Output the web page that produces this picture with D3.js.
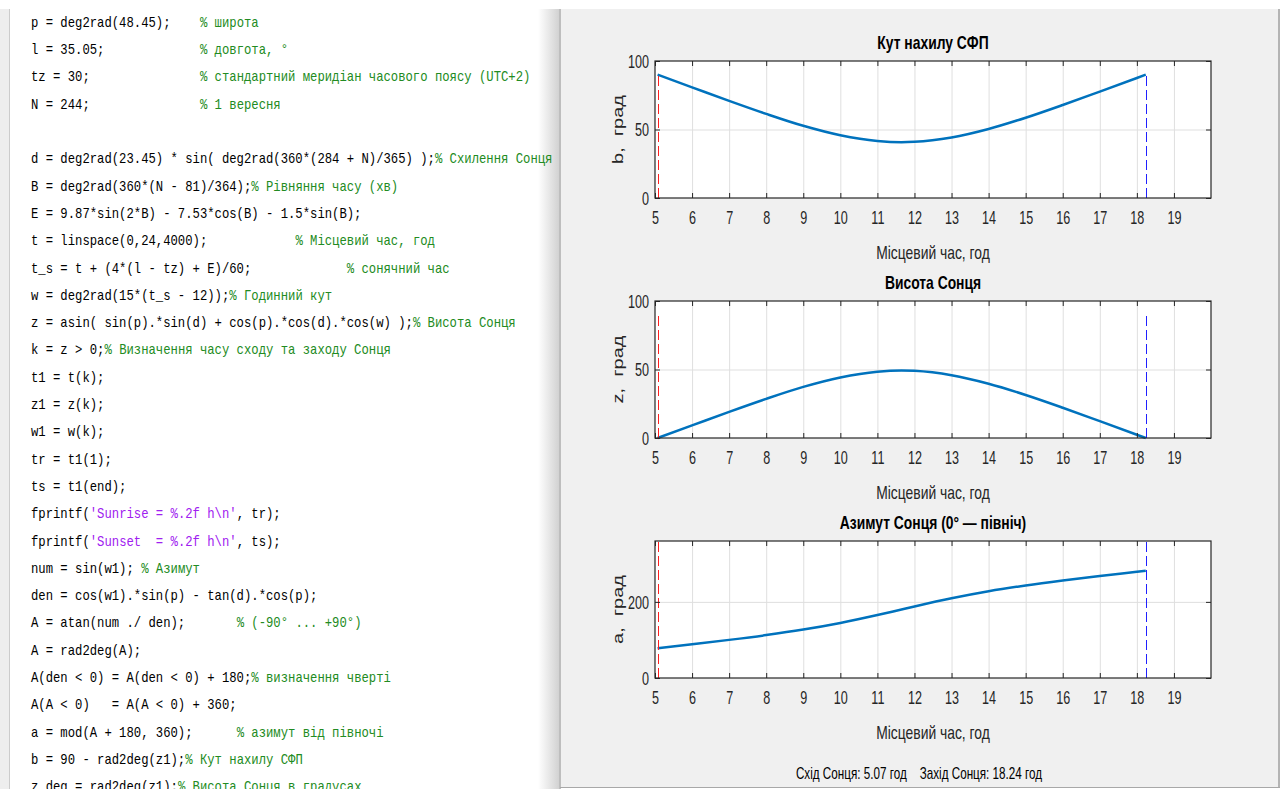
<!DOCTYPE html>
<html>
<head>
<meta charset="utf-8">
<script src="https://cdn.jsdelivr.net/npm/d3@7"></script>
<style>
  body { margin: 0; background: #fff; }
  svg { display: block; }
  text { font-family: "Liberation Sans", Arial, sans-serif; fill: #262626; }
  .code text { font-family: "Liberation Mono", "Courier New", monospace; font-size: 14px; white-space: pre; }
</style>
</head>
<body>
<div id="chart"></div>
<script>
// Width and height of the screenshot
var width = 1283, height = 789;

// MATLAB script shown in the editor panel
var codeLines = [
  "p = deg2rad(48.45);    % широта",
  "l = 35.05;             % довгота, °",
  "tz = 30;               % стандартний меридіан часового поясу (UTC+2)",
  "N = 244;               % 1 вересня",
  "",
  "d = deg2rad(23.45) * sin( deg2rad(360*(284 + N)/365) );% Схилення Сонця",
  "B = deg2rad(360*(N - 81)/364);% Рівняння часу (хв)",
  "E = 9.87*sin(2*B) - 7.53*cos(B) - 1.5*sin(B);",
  "t = linspace(0,24,4000);            % Місцевий час, год",
  "t_s = t + (4*(l - tz) + E)/60;             % сонячний час",
  "w = deg2rad(15*(t_s - 12));% Годинний кут",
  "z = asin( sin(p).*sin(d) + cos(p).*cos(d).*cos(w) );% Висота Сонця",
  "k = z > 0;% Визначення часу сходу та заходу Сонця",
  "t1 = t(k);",
  "z1 = z(k);",
  "w1 = w(k);",
  "tr = t1(1);",
  "ts = t1(end);",
  "fprintf('Sunrise = %.2f h\\n', tr);",
  "fprintf('Sunset  = %.2f h\\n', ts);",
  "num = sin(w1); % Азимут",
  "den = cos(w1).*sin(p) - tan(d).*cos(p);",
  "A = atan(num ./ den);       % (-90° ... +90°)",
  "A = rad2deg(A);",
  "A(den < 0) = A(den < 0) + 180;% визначення чверті",
  "A(A < 0)   = A(A < 0) + 360;",
  "a = mod(A + 180, 360);      % азимут від півночі",
  "b = 90 - rad2deg(z1);% Кут нахилу СФП",
  "z_deg = rad2deg(z1);% Висота Сонця в градусах"
];

// Local time samples (h)
var hours = [5.07, 6, 7, 8, 9, 10, 11, 11.65, 12, 13, 14, 15, 16, 17, 18, 18.24];
// Tilt of the panel b, deg
var tiltB = [90, 80.8, 70.9, 61.4, 52.7, 45.8, 41.6, 40.7, 41.0, 44.2, 50.4, 58.6, 67.9, 77.7, 87.6, 90];
// Sun elevation z, deg
var elevZ = [0, 9.2, 19.1, 28.6, 37.3, 44.2, 48.4, 49.3, 49.0, 45.8, 39.6, 31.4, 22.1, 12.3, 2.4, 0];
// Sun azimuth a, deg from north
var azimA = [78.3, 88.7, 100.2, 112.7, 127.2, 144.6, 165.3, 180.0, 187.9, 209.4, 227.9, 243.1, 256.1, 267.8, 279.0, 281.7];

var sunrise = 5.07, sunset = 18.24;
var xTicks = [5, 6, 7, 8, 9, 10, 11, 12, 13, 14, 15, 16, 17, 18, 19];

var titles = ["Кут нахилу СФП", "Висота Сонця", "Азимут Сонця (0° — північ)"];
var yLabels = ["b,  град", "z,  град", "a,  град"];
var yDomains = [[0, 100], [0, 100], [0, 360]];
var yTickVals = [[0, 50, 100], [0, 50, 100], [0, 200]];
var markerTop = [90, 90, 360];
var series = [tiltB, elevZ, azimA];
var footer = "Схід Сонця: 5.07 год    Захід Сонця: 18.24 год";

var svg = d3.select("#chart").append("svg")
    .attr("width", width)
    .attr("height", height);

var defs = svg.append("defs");
var grad = defs.append("linearGradient").attr("id", "shadow");
grad.append("stop").attr("offset", "0%").attr("stop-color", "#ffffff");
grad.append("stop").attr("offset", "100%").attr("stop-color", "#d2d2d2");

// ---- editor panel ----
svg.append("rect").attr("x", 0).attr("y", 9).attr("width", 9).attr("height", 780).attr("fill", "#eeeeee");
svg.append("line").attr("x1", 9.5).attr("x2", 9.5).attr("y1", 9).attr("y2", 789).attr("stroke", "#cccccc");
svg.append("rect").attr("x", 538).attr("y", 9).attr("width", 21).attr("height", 780).attr("fill", "url(#shadow)");

function tokenize(line) {
  var segs = [], cur = "", inStr = false;
  for (var i = 0; i < line.length; i++) {
    var c = line[i];
    if (!inStr && c === "%") {
      if (cur) segs.push([cur, "code"]);
      segs.push([line.slice(i), "comment"]);
      return segs;
    }
    if (c === "'") {
      if (!inStr) { if (cur) segs.push([cur, "code"]); cur = "'"; inStr = true; }
      else { cur += "'"; segs.push([cur, "str"]); cur = ""; inStr = false; }
      continue;
    }
    cur += c;
  }
  if (cur) segs.push([cur, inStr ? "str" : "code"]);
  return segs;
}

var colors = { code: "#000000", comment: "#228B22", str: "#A020F0" };
var code = svg.append("g").attr("class", "code")
    .attr("transform", "translate(31,0) scale(0.875,1)");

codeLines.forEach(function(line, i) {
  var t = code.append("text")
      .attr("xml:space", "preserve")
      .attr("x", 0)
      .attr("y", 22 + i * 27.3)
      .attr("dy", "0.35em");
  tokenize(line).forEach(function(s) {
    t.append("tspan").style("fill", colors[s[1]]).text(s[0]);
  });
});

// ---- figure panel ----
svg.append("rect").attr("x", 561).attr("y", 9).attr("width", 717).attr("height", 778).attr("fill", "#f0f0f0");
svg.append("line").attr("x1", 560).attr("x2", 560).attr("y1", 9).attr("y2", 789).attr("stroke", "#a8a8a8").attr("stroke-width", 1.5);
svg.append("line").attr("x1", 1279).attr("x2", 1279).attr("y1", 9).attr("y2", 788).attr("stroke", "#b4b4b4").attr("stroke-width", 2);
svg.append("line").attr("x1", 560).attr("x2", 1280).attr("y1", 787.5).attr("y2", 787.5).attr("stroke", "#a8a8a8");

var axL = 655, axR = 1211, axH = 137;
var x = d3.scaleLinear().domain([5, 20]).range([axL, axR]);

// text helper: the screenshot is squeezed horizontally
function label(sel, px, py, txt, o) {
  var tr = "translate(" + px + "," + py + ") scale(" + (o.sx || 0.73) + ",1)";
  if (o.rot) tr += " rotate(" + o.rot + ")";
  return sel.append("text")
      .attr("transform", tr)
      .attr("text-anchor", o.anchor || "middle")
      .attr("dy", "0.35em")
      .style("font-size", o.size + "px")
      .style("font-weight", o.weight || "normal")
      .style("fill", o.fill || "#262626")
      .style("white-space", "pre")
      .text(txt);
}

series.forEach(function(vals, k) {
  var top = 61 + 240 * k, bottom = top + axH;
  var y = d3.scaleLinear().domain(yDomains[k]).range([bottom, top]);
  var g = svg.append("g");

  g.append("rect").attr("x", axL).attr("y", top).attr("width", axR - axL).attr("height", axH)
      .attr("fill", "#ffffff");

  // grid
  g.append("g").attr("transform", "translate(0," + bottom + ")")
      .call(d3.axisBottom(x).tickValues(xTicks.slice(1)).tickSize(-axH).tickFormat(""))
      .call(function(s) { s.select(".domain").remove(); s.selectAll("line").attr("stroke", "#dfdfdf"); });
  g.append("g").attr("transform", "translate(" + axL + ",0)")
      .call(d3.axisLeft(y).tickValues(yTickVals[k].filter(function(v) { return v > yDomains[k][0] && v < yDomains[k][1]; }))
        .tickSize(-(axR - axL)).tickFormat(""))
      .call(function(s) { s.select(".domain").remove(); s.selectAll("line").attr("stroke", "#dfdfdf"); });

  // data line
  var line = d3.line()
      .x(function(d, i) { return x(hours[i]); })
      .y(function(d) { return y(d); })
      .curve(d3.curveMonotoneX);
  g.append("path").datum(vals)
      .attr("d", line)
      .attr("fill", "none")
      .attr("stroke", "#0072BD")
      .attr("stroke-width", 2.5);

  // sunrise / sunset markers
  [[sunrise, "#ff2020"], [sunset, "#2020ff"]].forEach(function(m) {
    var mx = Math.round(x(m[0])) + 0.5;
    g.append("line")
        .attr("x1", mx).attr("x2", mx)
        .attr("y1", y(0)).attr("y2", y(markerTop[k]))
        .attr("stroke", m[1]).attr("stroke-width", 1)
        .attr("stroke-dasharray", "10,4");
  });

  // axes with inward ticks on all four sides
  var bx = g.append("g").attr("transform", "translate(0," + bottom + ")")
      .call(d3.axisBottom(x).tickValues(xTicks).tickSizeInner(-5).tickSizeOuter(0).tickFormat(d3.format("d")));
  g.append("g").attr("transform", "translate(0," + top + ")")
      .call(d3.axisTop(x).tickValues(xTicks).tickSizeInner(-5).tickSizeOuter(0).tickFormat(""));
  var ly = g.append("g").attr("transform", "translate(" + axL + ",0)")
      .call(d3.axisLeft(y).tickValues(yTickVals[k]).tickSizeInner(-5).tickSizeOuter(0).tickFormat(d3.format("d")));
  g.append("g").attr("transform", "translate(" + axR + ",0)")
      .call(d3.axisRight(y).tickValues(yTickVals[k]).tickSizeInner(-5).tickSizeOuter(0).tickFormat(""));
  g.selectAll(".domain").remove();
  g.selectAll(".tick line").filter(function() { return this.getAttribute("stroke") !== "#dfdfdf"; })
      .attr("stroke", "#262626");

  bx.selectAll("text")
      .attr("y", 20).attr("dy", "0.35em")
      .attr("transform", "scale(0.72,1)")
      .style("font-size", "17.5px").style("fill", "#262626");
  ly.selectAll("text")
      .attr("x", -6 / 0.72).attr("dy", "0.35em")
      .attr("transform", "scale(0.72,1)")
      .style("font-size", "17.5px").style("fill", "#262626");

  // box
  g.append("rect").attr("x", axL).attr("y", top).attr("width", axR - axL).attr("height", axH)
      .attr("fill", "none").attr("stroke", "#262626").attr("stroke-width", 1.2);

  // labels
  label(svg, (axL + axR) / 2, top - 19, titles[k], { size: 19, weight: "bold", fill: "#000" });
  label(svg, (axL + axR) / 2, bottom + 54, "Місцевий час, год", { size: 19 });
  label(svg, 618, (top + bottom) / 2, yLabels[k], { size: 20, rot: -90 });
});

label(svg, 919, 773, footer, { size: 16, fill: "#000" });
</script>
</body>
</html>
